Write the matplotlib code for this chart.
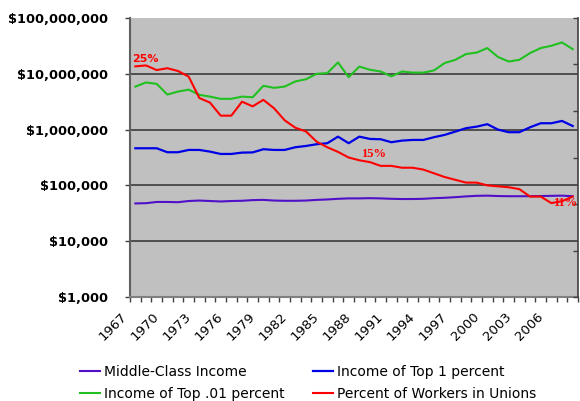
import matplotlib
matplotlib.use("Agg")
import matplotlib.pyplot as plt
import matplotlib.transforms as mtransforms
from matplotlib.ticker import FixedLocator, FuncFormatter, NullFormatter

# data
years = list(range(1967, 2009))

# thousands of dollars
middle_class_k = [47.5, 48, 50.5, 50.5, 50, 52.5, 53.5, 52.5, 51.5, 52.5,
                  53, 54.5, 55, 53.5, 53, 53, 53.5, 55, 56, 57.5,
                  58.5, 58.5, 59, 58.5, 57.5, 57, 57, 57.5, 59, 60,
                  61.5, 63.5, 65, 65.5, 64.5, 64, 64, 64, 64.5, 65,
                  65.5, 64]
top1_k = [463, 463, 463, 393, 393, 432, 432, 403, 366, 366,
          387, 390, 445, 432, 432, 483, 509, 547, 570, 748,
          570, 748, 680, 672, 594, 635, 653, 653, 731, 804,
          921, 1060, 1130, 1250, 1000, 898, 898, 1100, 1300, 1300,
          1430, 1160]
# millions of dollars
top001_m = [5.9, 7.0, 6.6, 4.25, 4.8, 5.2, 4.2, 3.9, 3.56, 3.56,
            3.9, 3.8, 6.1, 5.6, 5.9, 7.3, 8.0, 10.0, 10.3, 16.0,
            8.7, 13.5, 11.8, 11.0, 9.0, 11.0, 10.5, 10.5, 11.5, 15.6,
            17.8, 22.6, 24.0, 28.9, 20.0, 16.6, 17.8, 23.5, 28.9, 31.8,
            36.5, 27.7]
# percent of workers in unions (secondary axis)
union_pct = [24.8, 24.9, 24.4, 24.6, 24.3, 23.7, 21.4, 20.9, 19.5, 19.5,
             21.0, 20.5, 21.2, 20.3, 19.0, 18.2, 17.8, 16.7, 16.1, 15.6,
             15.0, 14.7, 14.5, 14.1, 14.1, 13.9, 13.9, 13.7, 13.3, 12.9,
             12.6, 12.3, 12.3, 12.0, 11.9, 11.8, 11.6, 10.8, 10.8, 10.1,
             10.3, 10.8]

# which union points get a percent label, and pixel offsets of the label
union_labels = [(1967, (10, 7), "DejaVu Sans"),
                (1988, (14, 6), "Liberation Serif"),
                (2008, (-7, -6), "Liberation Serif")]

y_ticks = [1e3, 1e4, 1e5, 1e6, 1e7, 1e8]
union_ticks = [0, 5, 10, 15, 20, 25, 30]

C_MID = "#5010C8"
C_TOP1 = "#0000E6"
C_TOP001 = "#20C020"
C_UNION = "#FF0000"


def dollars(v, _pos=None):
    return f"${v:,.0f}"


def main() -> int:
    W, H = 580, 401
    fig = plt.figure(figsize=(W / 100, H / 100), dpi=100)
    left, right, top, bottom = 130, 578, 18, 297
    ax = fig.add_axes([left / W, 1 - bottom / H, (right - left) / W, (bottom - top) / H])
    ax.set_facecolor("#C0C0C0")

    x = list(range(len(years)))
    mid = [v * 1e3 for v in middle_class_k]
    t1 = [v * 1e3 for v in top1_k]
    t001 = [v * 1e6 for v in top001_m]

    h_mid, = ax.plot(x, mid, color=C_MID, lw=1.5, label="Middle-Class Income")
    h_t1, = ax.plot(x, t1, color=C_TOP1, lw=1.6, label="Income of Top 1 percent")
    h_t001, = ax.plot(x, t001, color=C_TOP001, lw=1.5, label="Income of Top .01 percent")

    ax.set_yscale("log")
    ax.set_ylim(1e3, 1e8)
    ax.set_xlim(-0.5, len(years) - 0.5)
    ax.yaxis.set_major_locator(FixedLocator(y_ticks))
    ax.yaxis.set_major_formatter(FuncFormatter(dollars))
    ax.yaxis.set_minor_locator(FixedLocator([]))
    for t in y_ticks[1:-1]:
        ax.axhline(t, color="#303030", lw=1.1, zorder=1)

    # category axis: ticks between categories, labels every third year
    ax.xaxis.set_minor_locator(FixedLocator([i - 0.5 for i in range(len(years) + 1)]))
    ax.xaxis.set_minor_formatter(NullFormatter())
    lab_idx = list(range(0, len(years), 3))
    ax.set_xticks(lab_idx)
    ax.set_xticklabels([str(years[i]) for i in lab_idx], rotation=45,
                       ha="right", va="center", rotation_mode="anchor", fontsize=9.5)
    ax.tick_params(axis="x", which="major", length=0, pad=13)
    ax.tick_params(axis="x", which="minor", length=3.6, width=1, color="#404040", direction="out")
    ax.tick_params(axis="y", which="major", length=3.6, width=1, color="#404040",
                   direction="out", pad=12, labelsize=9.3)
    for lab in ax.get_yticklabels():
        lab.set_fontweight("bold")
    offset = mtransforms.ScaledTranslation(-0.10, 0, fig.dpi_scale_trans)
    for lab in ax.get_xticklabels():
        lab.set_transform(lab.get_transform() + offset)

    for s in ("top", "right"):
        ax.spines[s].set_visible(False)
    ax.spines["left"].set_color("#606060")
    ax.spines["left"].set_linewidth(1.5)
    ax.spines["bottom"].set_color("#808080")
    ax.spines["bottom"].set_linewidth(1.5)

    ax2 = ax.twinx()
    ax2.patch.set_visible(False)
    h_union, = ax2.plot(x, union_pct, color=C_UNION, lw=1.5, label="Percent of Workers in Unions")
    ax2.set_ylim(0, 30)
    ax2.set_yticks(union_ticks)
    ax2.set_yticklabels([])
    ax2.tick_params(axis="y", length=3.6, width=1, color="#404040", direction="in")
    for s in ("top", "left", "bottom"):
        ax2.spines[s].set_visible(False)
    ax2.spines["right"].set_color("#404040")
    ax2.spines["right"].set_linewidth(1.2)

    for yr, (dx, dy), fam in union_labels:
        i = years.index(yr)
        ax2.annotate(f"{round(union_pct[i])}%", (x[i], union_pct[i]),
                     xytext=(dx, dy), textcoords="offset pixels",
                     ha="center", va="center", color=C_UNION,
                     fontsize=8 if fam == "DejaVu Sans" else 9,
                     fontweight="bold", family=fam)

    fig.legend([h_mid, h_t001, h_t1, h_union],
               [h.get_label() for h in (h_mid, h_t001, h_t1, h_union)],
               ncol=2, loc="upper left", bbox_to_anchor=(80 / W, 1 - 365 / H),
               frameon=False, borderpad=0, borderaxespad=0, fontsize=10,
               handlelength=1.45, handletextpad=0.3, columnspacing=2.0,
               labelspacing=0.55)

    fig.savefig("out.png", dpi=100)
    plt.close(fig)
    return 0


if __name__ == "__main__":
    raise SystemExit(main())
